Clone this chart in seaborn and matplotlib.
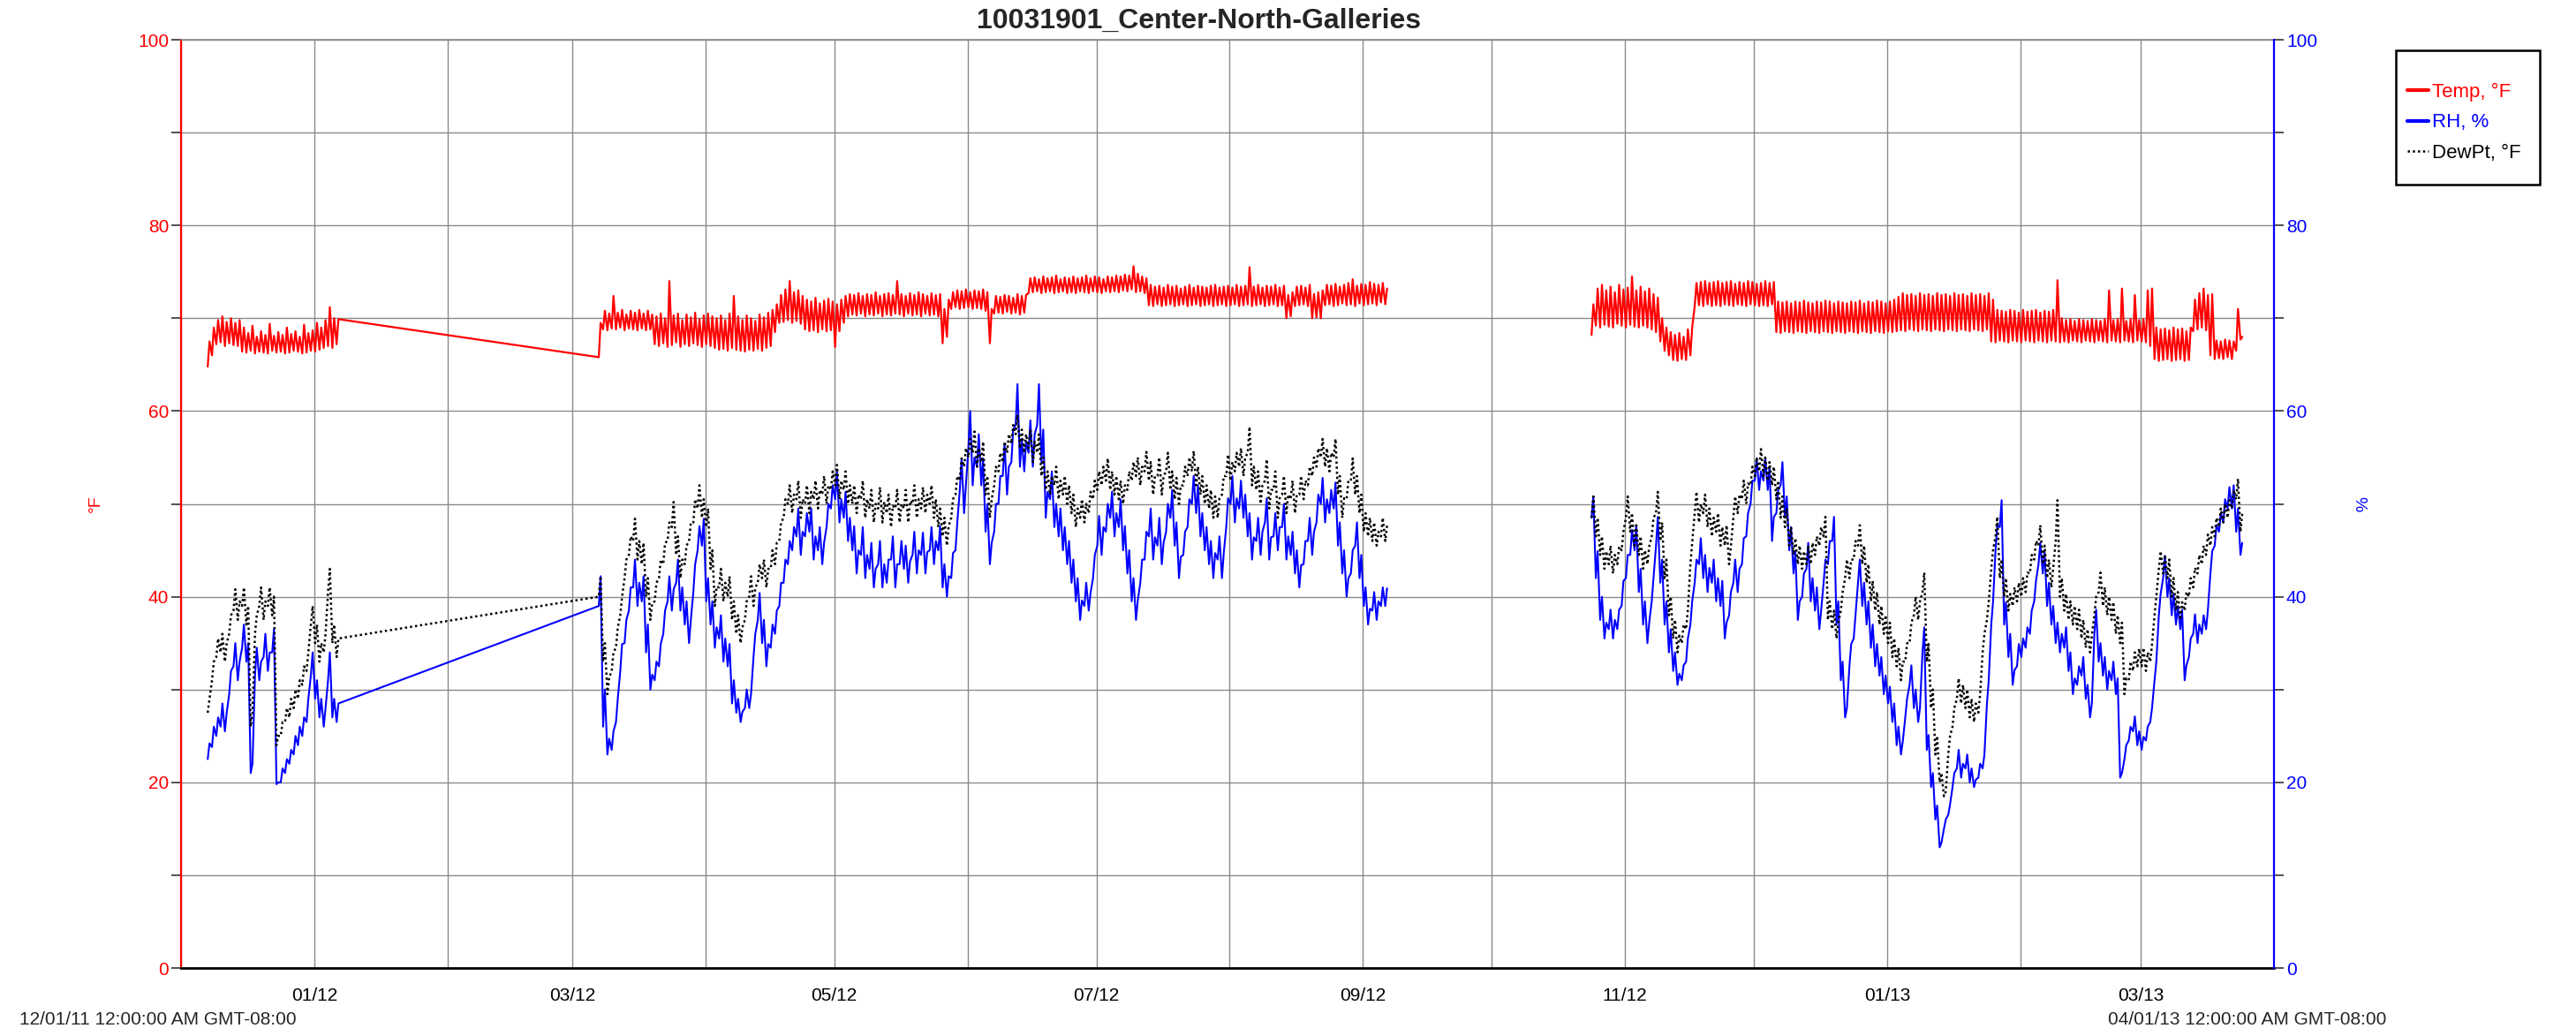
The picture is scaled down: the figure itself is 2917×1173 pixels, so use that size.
import pandas as pd
import matplotlib
matplotlib.use("Agg")
import matplotlib.pyplot as plt
import matplotlib.dates as mdates
from matplotlib.patches import Rectangle
from matplotlib.ticker import MultipleLocator, FuncFormatter
import seaborn as sns

TITLE = "10031901_Center-North-Galleries"
SERIES_NAMES = ["Temp, °F", "RH, %", "DewPt, °F"]
RANGE_START = "2011-12-01"
RANGE_END = "2013-04-01"
START_STAMP = "12/01/11 12:00:00 AM GMT-08:00"
END_STAMP = "04/01/13 12:00:00 AM GMT-08:00"

# First day of each of the three logging periods
SEG1_START = "2011-12-07"
SEG2_START = "2012-03-07"
SEG3_START = "2012-10-24"

# Temperature: daily afternoon high and early-morning low (°F)
temp_seg1_hi = [67.5, 69.0, 69.8, 70.2, 69.6, 70.0, 69.5, 69.8, 69.0, 68.4,
                69.2, 68.0, 68.6, 68.2, 69.4, 68.1, 68.5, 68.2, 69.0, 68.3,
                68.6, 68.0, 69.3, 68.4, 68.7, 69.5, 69.0, 69.8, 71.2, 70.0,
                69.9]
temp_seg1_lo = [64.8, 66.0, 67.2, 67.4, 67.0, 67.3, 67.1, 67.0, 66.4, 66.3,
                66.5, 66.2, 66.4, 66.3, 66.2, 66.5, 66.3, 66.4, 66.2, 66.3,
                66.5, 66.4, 66.2, 66.3, 66.5, 66.4, 66.6, 66.8, 67.0, 66.8,
                67.2]
temp_seg2_hi = [69.5, 70.8, 70.5, 72.4, 70.6, 70.9, 70.4, 70.8, 70.6, 70.9,
                70.5, 70.8, 70.4, 70.2, 70.5, 70.0, 74.0, 70.3, 70.5, 69.8,
                70.4, 70.1, 70.6, 69.9, 70.3, 70.5, 70.2, 70.0, 70.3, 69.8,
                70.5, 72.4, 70.2, 69.8, 70.3, 70.0, 69.7, 70.4, 70.1, 70.6,
                70.9, 71.5, 72.5, 73.1, 74.0, 72.8, 73.0, 72.4, 72.0, 71.8,
                72.2, 71.6, 71.9, 72.1, 71.8, 71.5, 72.0, 72.4, 72.6, 72.5,
                72.7, 72.4, 72.6, 72.5, 72.8, 72.4, 72.6, 72.7, 72.5, 74.0,
                72.6, 72.4, 72.7, 72.5, 72.8, 72.6, 72.4, 72.7, 72.5, 72.6,
                71.0, 72.0, 72.8, 73.0, 72.9, 73.1, 72.8, 73.0, 72.9, 73.1,
                72.8, 71.0, 72.4, 72.3, 72.5, 72.4, 72.2, 72.6, 72.4, 72.5,
                74.3, 74.4, 74.2, 74.5, 74.3, 74.4, 74.6, 74.2, 74.4, 74.3,
                74.5, 74.3, 74.4, 74.6, 74.3, 74.5, 74.4, 74.2, 74.5, 74.4,
                74.6, 74.5, 74.7, 74.6, 75.6, 74.8, 74.5, 74.3, 73.6, 73.4,
                73.5, 73.3, 73.6, 73.4, 73.5, 73.2, 73.4, 73.6, 73.3, 73.5,
                73.4, 73.3, 73.5, 73.6, 73.3, 73.4, 73.5, 73.3, 73.6, 73.4,
                73.5, 75.5, 73.4, 73.6, 73.3, 73.5, 73.4, 73.6, 73.3, 73.5,
                72.5, 72.8, 73.4, 73.5, 73.3, 73.6, 72.6, 72.8, 73.0, 73.6,
                73.5, 73.7, 73.4, 73.6, 73.8, 74.2, 73.5, 73.7, 73.6, 73.9,
                73.7, 73.6, 73.8, 73.2]
temp_seg2_lo = [65.8, 68.8, 68.7, 68.9, 68.8, 69.0, 68.7, 68.9, 68.8, 68.7,
                68.9, 68.7, 68.8, 67.2, 67.0, 67.3, 66.9, 67.1, 67.4, 66.9,
                67.2, 67.0, 67.3, 67.1, 66.9, 67.2, 67.0, 66.8, 66.6, 66.7,
                66.5, 66.8, 66.6, 66.5, 66.4, 66.6, 66.5, 66.7, 66.5, 66.8,
                67.0, 68.5, 69.5, 69.6, 69.8, 69.5, 69.7, 69.4, 68.8, 68.6,
                68.7, 68.5, 68.8, 68.6, 68.7, 66.9, 68.6, 69.5, 70.2, 70.4,
                70.3, 70.5, 70.2, 70.4, 70.3, 70.5, 70.2, 70.4, 70.3, 70.5,
                70.4, 70.2, 70.5, 70.3, 70.4, 70.2, 70.5, 70.3, 70.4, 70.2,
                67.3, 68.0, 71.0, 71.2, 71.0, 71.1, 71.2, 71.0, 71.1, 71.0,
                70.8, 67.3, 70.5, 70.6, 70.5, 70.7, 70.5, 70.6, 70.4, 70.6,
                72.7, 72.8, 72.9, 72.7, 72.8, 72.9, 72.7, 72.8, 72.9, 72.7,
                72.8, 72.7, 72.9, 72.8, 72.7, 72.9, 72.8, 72.7, 72.9, 72.8,
                72.9, 72.8, 73.0, 72.9, 73.1, 72.8, 72.9, 72.7, 71.4, 71.3,
                71.5, 71.3, 71.4, 71.5, 71.3, 71.4, 71.5, 71.3, 71.4, 71.5,
                71.3, 71.4, 71.5, 71.3, 71.4, 71.5, 71.3, 71.4, 71.5, 71.3,
                71.4, 71.5, 71.3, 71.4, 71.5, 71.3, 71.4, 71.5, 71.3, 71.4,
                70.0, 70.2, 71.3, 71.4, 71.5, 71.3, 70.0, 70.1, 70.0, 71.4,
                71.5, 71.3, 71.4, 71.6, 71.4, 71.5, 71.3, 71.6, 71.4, 71.5,
                71.6, 71.4, 71.7, 71.5]
temp_seg3_hi = [71.5, 73.2, 73.6, 73.0, 73.4, 72.8, 73.6, 73.1, 73.3, 74.5,
                73.0, 73.4, 72.9, 73.2, 72.6, 72.2, 70.0, 69.0, 68.5, 68.2,
                68.4, 68.0, 68.8, 69.0, 73.8, 73.9, 74.0, 73.8, 73.9, 74.0,
                73.8, 73.9, 74.0, 73.7, 73.9, 73.8, 74.0, 73.9, 73.7, 73.8,
                74.0, 73.8, 73.9, 71.8, 71.7, 71.8, 71.6, 71.8, 71.7, 71.9,
                71.7, 71.6, 71.8, 71.7, 71.9, 71.8, 71.6, 71.8, 71.7, 71.6,
                71.8, 71.7, 71.9, 71.6, 71.8, 71.7, 71.9, 71.8, 71.6, 71.8,
                72.0, 72.3, 72.7, 72.5, 72.6, 72.4, 72.7, 72.5, 72.6, 72.4,
                72.7, 72.5, 72.6, 72.4, 72.7, 72.5, 72.6, 72.4, 72.7, 72.5,
                72.6, 72.4, 72.7, 72.0, 70.9, 70.8, 70.7, 70.9, 70.8, 70.6,
                70.9, 70.7, 70.8, 70.9, 70.6, 70.8, 70.7, 70.9, 74.1, 70.0,
                69.8, 69.9, 69.7, 69.9, 69.8, 69.7, 69.9, 69.8, 69.7, 69.9,
                73.0, 69.8, 69.9, 73.2, 69.7, 69.9, 72.5, 69.8, 69.9, 73.0,
                73.2, 69.0, 68.8, 68.9, 68.7, 69.0, 68.8, 68.9, 68.6, 69.0,
                72.0, 72.7, 73.2, 72.5, 72.6, 67.6, 67.5, 67.7, 67.6, 67.5,
                71.0, 68.0]
temp_seg3_lo = [68.2, 69.2, 69.0, 69.3, 69.1, 69.0, 69.4, 69.2, 69.0, 69.3,
                69.1, 69.0, 69.2, 69.0, 68.8, 68.5, 67.5, 66.5, 66.0, 65.5,
                65.4, 65.6, 65.5, 66.0, 71.3, 71.4, 71.3, 71.5, 71.3, 71.4,
                71.3, 71.5, 71.4, 71.3, 71.5, 71.4, 71.3, 71.5, 71.4, 71.3,
                71.4, 71.3, 71.5, 68.5, 68.4, 68.6, 68.5, 68.4, 68.6, 68.5,
                68.4, 68.6, 68.5, 68.4, 68.6, 68.5, 68.4, 68.6, 68.5, 68.4,
                68.6, 68.5, 68.4, 68.6, 68.5, 68.4, 68.6, 68.5, 68.4, 68.6,
                68.5, 68.6, 68.7, 68.6, 68.8, 68.7, 68.6, 68.8, 68.7, 68.6,
                68.8, 68.7, 68.6, 68.8, 68.7, 68.6, 68.8, 68.7, 68.6, 68.8,
                68.7, 68.6, 68.8, 67.5, 67.4, 67.6, 67.5, 67.4, 67.6, 67.5,
                67.4, 67.6, 67.5, 67.4, 67.6, 67.5, 67.4, 67.6, 67.5, 67.4,
                67.5, 67.4, 67.6, 67.5, 67.4, 67.6, 67.5, 67.4, 67.6, 67.5,
                67.4, 67.6, 67.5, 67.4, 67.6, 67.5, 67.4, 67.6, 67.5, 67.4,
                67.0, 65.6, 65.4, 65.5, 65.6, 65.4, 65.5, 65.6, 65.4, 65.5,
                68.6, 68.8, 69.0, 68.7, 66.0, 65.6, 65.7, 65.6, 65.8, 65.6,
                66.5, 67.7]

# Relative humidity: afternoon and early-morning readings (%)
rh_seg1_pm = [24.2, 26.0, 27.0, 28.5, 27.5, 32.0, 35.0, 33.0, 37.0, 35.0,
              22.0, 34.5, 33.0, 36.0, 34.0, 36.5, 20.0, 21.5, 22.5, 23.5,
              25.0, 26.0, 27.0, 29.0, 34.0, 31.0, 29.0, 28.0, 34.0, 29.0,
              28.5]
rh_seg1_am = [22.5, 23.8, 25.0, 26.0, 25.5, 29.5, 32.5, 31.0, 34.5, 33.0,
              21.0, 31.5, 31.0, 33.5, 32.0, 34.0, 19.8, 20.0, 21.0, 22.0,
              23.0, 24.0, 25.0, 26.5, 31.5, 29.0, 27.0, 26.0, 31.0, 27.0,
              26.5]
rh_seg2_pm = [42.2, 30.0, 24.7, 25.5, 29.0, 34.9, 37.5, 41.0, 44.0, 41.5,
              42.2, 37.0, 31.6, 33.0, 34.9, 38.5, 42.2, 40.8, 44.0, 41.0,
              39.5, 37.5, 43.5, 47.6, 48.4, 42.0, 39.5, 36.7, 38.0, 35.5,
              34.9, 31.0, 29.0, 27.6, 30.0, 29.5, 36.0, 40.4, 37.5, 34.9,
              37.0, 38.5, 41.5, 44.0, 46.0, 47.5, 49.5, 47.0, 49.0, 49.5,
              46.5, 47.5, 45.8, 50.0, 52.0, 53.5, 50.5, 51.3, 48.5, 47.6,
              45.0, 47.5, 44.5, 45.8, 43.0, 46.0, 43.5, 44.0, 46.5, 43.5,
              46.0, 45.5, 43.8, 47.0, 45.0, 46.9, 44.8, 47.5, 46.0, 47.6,
              43.5, 42.2, 44.7, 48.0, 54.9, 52.0, 60.0, 55.0, 57.5, 54.9,
              50.0, 45.8, 50.0, 53.0, 56.5, 54.0, 58.0, 62.9, 57.0, 56.7,
              59.0, 57.5, 62.9, 58.0, 51.3, 53.5, 50.0, 49.5, 47.5, 46.0,
              44.0, 42.0, 39.6, 41.5, 40.4, 44.5, 48.7, 47.5, 50.0, 51.3,
              49.0, 50.5, 47.6, 45.0, 42.0, 39.6, 44.0, 47.0, 49.5, 46.4,
              48.5, 45.8, 50.0, 51.5, 48.0, 44.3, 47.0, 50.5, 53.0, 52.0,
              49.0, 47.5, 46.0, 44.7, 46.5, 44.7, 50.6, 53.0, 50.6, 52.5,
              51.0, 49.0, 46.4, 48.5, 47.0, 50.6, 46.4, 49.0, 47.5, 50.0,
              46.5, 47.0, 45.0, 43.4, 46.0, 48.5, 47.0, 51.0, 52.8, 50.5,
              51.5, 52.3, 48.0, 45.0, 42.0, 45.0, 48.0, 44.5, 41.0, 38.7,
              40.5, 39.5, 41.0, 40.9]
rh_seg2_am = [39.0, 26.0, 23.0, 23.5, 26.5, 32.0, 35.0, 38.5, 41.0, 39.0,
              39.5, 34.0, 30.0, 31.0, 32.5, 36.0, 39.5, 38.5, 41.5, 38.5,
              37.0, 35.0, 40.5, 45.0, 45.5, 39.5, 37.0, 34.5, 35.5, 33.0,
              32.5, 28.5, 27.5, 26.5, 28.0, 28.0, 33.5, 37.5, 35.0, 32.5,
              34.5, 36.0, 39.0, 41.5, 43.5, 45.0, 46.5, 44.5, 46.5, 47.0,
              44.0, 45.0, 43.5, 47.5, 49.5, 50.5, 48.0, 48.5, 46.0, 45.0,
              42.5, 44.5, 42.0, 43.0, 41.0, 43.5, 41.0, 41.5, 44.0, 41.0,
              43.5, 43.0, 41.5, 44.5, 42.5, 44.5, 42.5, 45.0, 43.5, 45.0,
              41.0, 40.0, 42.0, 45.0, 51.5, 49.0, 56.0, 52.0, 54.0, 52.0,
              47.0, 43.5, 47.0, 50.0, 53.0, 51.0, 54.5, 58.5, 54.0, 53.5,
              55.5, 54.0, 58.5, 54.5, 48.5, 50.5, 47.5, 46.5, 45.0, 43.5,
              41.5, 39.5, 37.5, 39.0, 38.5, 42.0, 45.5, 44.5, 47.0, 48.5,
              46.5, 47.5, 45.0, 42.5, 39.5, 37.5, 41.5, 44.0, 46.5, 44.0,
              45.5, 43.5, 47.0, 48.5, 45.5, 42.0, 44.5, 47.5, 50.0, 49.0,
              46.5, 45.0, 43.5, 42.0, 44.0, 42.0, 47.5, 50.0, 48.0, 49.5,
              48.5, 46.5, 44.0, 46.0, 44.5, 48.0, 44.0, 46.5, 45.0, 47.5,
              44.0, 44.5, 42.5, 41.0, 43.5, 46.0, 44.5, 48.0, 50.0, 48.0,
              49.0, 49.5, 45.5, 42.5, 40.0, 42.5, 45.5, 42.0, 39.0, 37.0,
              38.5, 37.5, 39.0, 39.0]
rh_seg3_pm = [50.8, 44.9, 40.0, 37.2, 38.6, 37.5, 38.6, 41.7, 44.5, 47.2,
              47.7, 43.0, 39.5, 37.2, 42.0, 48.6, 44.0, 39.5, 36.5, 34.0,
              31.7, 32.6, 35.5, 39.5, 44.0, 46.3, 44.5, 43.1, 44.0, 42.0,
              41.7, 37.2, 40.5, 44.0, 43.0, 46.3, 49.0, 52.5, 54.9, 53.5,
              55.0, 54.0, 48.6, 51.5, 54.5, 50.8, 47.5, 44.9, 39.5, 42.5,
              45.8, 42.0, 41.0, 38.5, 44.0, 46.0, 48.6, 39.5, 33.0, 28.0,
              34.9, 38.0, 44.0, 41.5, 39.5, 37.0, 34.9, 33.5, 31.5, 30.3,
              28.5, 26.0, 24.4, 29.0, 32.6, 30.0, 28.0, 36.7, 25.1, 21.0,
              17.5, 13.5, 16.0, 17.6, 21.0, 23.5, 22.0, 23.0, 21.5, 20.3,
              22.0, 23.0, 31.0, 39.4, 47.7, 50.4, 39.4, 36.0, 32.1, 34.9,
              35.5, 36.7, 38.5, 41.7, 45.8, 44.9, 41.5, 39.0, 37.2, 36.0,
              36.7, 34.0, 31.2, 32.5, 33.5, 30.5, 28.5, 38.6, 35.0, 33.5,
              32.0, 33.0, 31.2, 21.0, 24.0, 26.0, 27.1, 25.5, 24.9, 26.0,
              28.0, 33.0, 40.3, 44.4, 42.0, 40.3, 39.0, 38.6, 32.6, 35.5,
              38.1, 37.0, 38.0, 38.6, 44.9, 47.7, 49.0, 50.5, 51.8, 52.0,
              49.5, 45.8]
rh_seg3_am = [48.5, 42.0, 37.5, 35.5, 36.5, 35.5, 36.5, 39.0, 42.0, 44.5,
              45.0, 40.5, 37.0, 35.0, 39.5, 45.5, 41.5, 37.0, 34.0, 32.0,
              30.5, 31.0, 33.0, 37.0, 41.5, 43.5, 42.0, 40.5, 41.5, 39.5,
              39.0, 35.5, 38.0, 41.5, 40.5, 43.5, 46.5, 50.0, 52.5, 51.5,
              52.5, 51.5, 46.0, 49.0, 52.0, 48.5, 45.0, 42.5, 37.5, 40.0,
              43.0, 39.5, 38.5, 36.5, 41.5, 43.5, 46.0, 37.0, 31.0, 27.0,
              32.5, 35.5, 41.5, 39.0, 37.0, 34.5, 32.5, 31.5, 29.5, 28.5,
              26.5, 24.0, 23.0, 27.0, 30.5, 28.0, 26.5, 34.0, 23.5, 19.5,
              16.0, 13.0, 15.0, 16.5, 19.5, 21.5, 20.5, 21.5, 20.0, 19.5,
              20.5, 21.5, 28.5, 37.0, 45.0, 47.5, 37.0, 33.5, 30.5, 32.5,
              33.5, 34.5, 36.0, 39.5, 43.5, 42.5, 39.0, 37.0, 35.0, 34.0,
              34.5, 32.0, 29.5, 30.5, 31.5, 29.0, 27.0, 36.0, 33.0, 31.5,
              30.0, 31.0, 29.5, 20.5, 22.5, 24.5, 25.5, 24.0, 23.5, 24.5,
              26.5, 31.0, 38.0, 42.0, 40.0, 38.0, 37.0, 36.5, 31.0, 33.5,
              36.0, 35.0, 36.0, 36.5, 42.5, 45.5, 47.0, 48.0, 49.5, 49.5,
              47.0, 44.5]

# Dew point: afternoon and early-morning readings (°F)
dew_seg1_pm = [29.0, 33.0, 35.5, 36.0, 35.0, 38.0, 40.8, 39.5, 41.0, 39.0,
               27.5, 38.0, 41.0, 39.5, 41.0, 40.0, 25.0, 26.5, 28.0, 29.0,
               30.0, 31.0, 32.5, 34.0, 39.0, 37.0, 35.0, 36.0, 43.0, 37.0,
               35.5]
dew_seg1_am = [27.5, 31.0, 33.5, 34.0, 33.0, 36.0, 38.5, 37.5, 39.0, 37.0,
               26.0, 36.0, 39.0, 37.5, 39.0, 38.0, 24.0, 25.0, 26.5, 27.0,
               28.0, 29.0, 30.5, 32.0, 37.0, 35.0, 33.0, 34.0, 40.5, 35.0,
               33.5]
dew_seg2_pm = [42.2, 35.0, 31.3, 34.0, 36.7, 40.0, 44.0, 46.5, 48.4, 46.0,
               45.8, 42.0, 39.3, 41.5, 44.0, 45.8, 48.0, 50.2, 46.5, 44.0,
               45.5, 48.0, 50.5, 52.0, 50.5, 49.5, 45.0, 41.1, 43.0, 41.5,
               42.2, 39.5, 38.0, 36.7, 39.5, 42.2, 41.0, 43.5, 44.0, 43.0,
               45.0, 45.8, 48.0, 50.5, 52.0, 51.0, 52.5, 50.5, 52.0, 51.3,
               52.5, 51.5, 53.0, 52.0, 53.5, 54.2, 52.5, 53.5, 52.0, 52.0,
               51.0, 52.5, 50.5, 51.5, 50.0, 51.8, 50.2, 51.0, 49.8, 51.5,
               50.0, 51.5, 50.3, 52.0, 50.5, 51.8, 51.0, 52.0, 50.5, 49.5,
               48.5, 47.6, 50.5, 53.0, 54.9, 56.0, 57.0, 57.8, 56.0, 56.7,
               53.0, 50.5, 54.0, 55.5, 56.7, 57.5, 58.5, 59.6, 58.0, 57.5,
               58.0, 56.7, 57.5, 55.0, 53.5, 53.0, 54.0, 52.5, 53.0, 52.0,
               51.0, 49.5, 50.5, 50.0, 51.3, 52.5, 53.5, 54.0, 54.9, 53.5,
               53.0, 52.5, 52.0, 53.5, 54.5, 55.0, 54.0, 55.6, 54.5, 53.0,
               55.0, 53.0, 55.5, 53.5, 52.8, 52.0, 54.0, 55.0, 55.7, 54.0,
               53.0, 52.0, 51.5, 50.8, 50.6, 53.0, 55.3, 54.5, 55.5, 56.0,
               55.0, 58.3, 54.0, 53.5, 52.0, 54.8, 51.5, 53.5, 50.6, 53.0,
               51.0, 52.5, 51.0, 53.0, 52.5, 54.0, 55.0, 56.0, 57.0, 56.0,
               55.5, 57.0, 53.0, 50.6, 52.5, 54.9, 53.0, 51.0, 49.0, 48.5,
               48.0, 47.0, 48.5, 47.7]
dew_seg2_am = [40.0, 33.0, 29.5, 32.0, 34.5, 38.0, 42.0, 44.5, 46.0, 44.0,
               43.5, 40.0, 37.5, 39.5, 42.0, 43.5, 46.0, 47.5, 44.5, 42.0,
               43.5, 46.0, 48.0, 49.5, 48.5, 47.5, 43.0, 39.0, 41.0, 39.5,
               40.0, 37.5, 36.0, 35.0, 37.5, 40.0, 39.0, 41.5, 42.0, 41.0,
               43.0, 43.5, 46.0, 48.5, 50.0, 49.0, 50.5, 48.5, 50.0, 49.0,
               50.5, 49.5, 51.0, 50.0, 51.5, 52.0, 50.5, 51.5, 50.0, 50.0,
               49.0, 50.5, 48.5, 49.5, 48.0, 49.5, 48.0, 49.0, 47.5, 49.5,
               48.0, 49.5, 48.0, 50.0, 48.5, 49.5, 49.0, 50.0, 48.5, 47.5,
               46.5, 45.5, 48.5, 51.0, 52.5, 54.0, 55.0, 55.5, 54.0, 54.5,
               51.0, 48.5, 52.0, 53.5, 54.5, 55.5, 56.5, 57.5, 56.0, 55.5,
               56.0, 54.5, 55.5, 53.0, 51.5, 51.0, 52.0, 50.5, 51.0, 50.0,
               49.0, 47.5, 48.5, 48.0, 49.0, 50.5, 51.5, 52.0, 52.5, 51.5,
               51.0, 50.5, 50.0, 51.5, 52.5, 53.0, 52.0, 53.5, 52.5, 51.0,
               53.0, 51.0, 53.5, 51.5, 50.5, 50.0, 52.0, 53.0, 53.5, 52.0,
               51.0, 50.0, 49.5, 48.5, 48.5, 51.0, 53.0, 52.5, 53.5, 54.0,
               53.0, 55.5, 52.0, 51.5, 50.0, 52.5, 49.5, 51.5, 48.5, 51.0,
               49.0, 50.5, 49.0, 51.0, 50.5, 52.0, 53.0, 54.0, 55.0, 54.0,
               53.5, 55.0, 51.0, 48.5, 50.5, 52.5, 51.0, 49.0, 47.0, 46.5,
               46.0, 45.5, 46.5, 46.0]
dew_seg3_pm = [50.8, 48.5, 46.5, 44.9, 45.5, 44.5, 45.4, 47.0, 50.8, 49.0,
               47.7, 46.5, 45.0, 45.4, 48.5, 51.3, 48.0, 44.0, 40.0, 37.5,
               35.8, 37.0, 38.6, 45.8, 51.3, 50.0, 51.0, 49.5, 48.5, 49.0,
               47.5, 47.7, 45.4, 50.8, 51.0, 52.5, 52.2, 54.0, 55.0, 55.9,
               55.0, 54.5, 54.0, 52.5, 50.8, 49.5, 47.5, 46.3, 45.5, 44.9,
               45.5, 45.8, 46.5, 47.5, 48.6, 39.5, 38.5, 37.2, 40.5, 44.0,
               44.0, 46.0, 47.7, 45.5, 43.5, 41.7, 40.5, 39.0, 38.0, 37.2,
               35.5, 34.5, 33.0, 35.0, 37.2, 40.0, 39.5, 42.6, 34.9, 30.0,
               25.0, 21.0, 19.0, 25.0, 28.0, 31.2, 30.5, 30.0, 29.0, 28.5,
               29.5, 36.0, 39.4, 45.0, 48.6, 44.0, 42.0, 40.3, 41.0, 41.5,
               42.0, 42.6, 44.5, 46.0, 47.7, 45.5, 44.0, 43.1, 50.4, 42.0,
               40.3, 39.5, 39.0, 38.6, 37.5, 36.5, 35.8, 40.0, 42.6, 41.0,
               40.0, 39.4, 38.0, 37.2, 31.2, 33.0, 34.0, 34.4, 34.5, 34.0,
               34.9, 40.0, 44.9, 44.5, 44.0, 42.0, 40.5, 39.4, 40.5, 42.0,
               43.1, 44.5, 45.5, 46.7, 47.5, 48.5, 49.5, 50.0, 50.4, 51.5,
               52.7, 49.0]
dew_seg3_am = [48.5, 46.5, 44.5, 43.0, 43.5, 42.5, 43.5, 45.0, 48.5, 47.0,
               45.5, 44.5, 43.0, 43.5, 46.5, 49.0, 46.0, 42.0, 38.0, 35.5,
               34.0, 35.0, 36.5, 43.5, 49.0, 48.0, 49.0, 47.5, 46.5, 47.0,
               45.5, 45.5, 43.5, 48.5, 49.0, 50.5, 50.0, 52.0, 53.0, 53.5,
               53.0, 52.5, 52.0, 50.5, 48.5, 47.5, 45.5, 44.5, 43.5, 43.0,
               43.5, 43.5, 44.5, 45.5, 46.5, 37.5, 36.5, 35.5, 38.5, 42.0,
               42.0, 44.0, 45.5, 43.5, 41.5, 39.5, 38.5, 37.0, 36.0, 35.0,
               33.5, 32.5, 31.0, 33.0, 35.0, 38.0, 37.5, 40.5, 33.0, 28.0,
               23.0, 20.0, 18.5, 23.0, 26.0, 29.0, 28.5, 28.0, 27.0, 26.5,
               27.5, 34.0, 37.5, 43.0, 46.5, 42.0, 40.0, 38.5, 39.0, 39.5,
               40.0, 40.5, 42.5, 44.0, 45.5, 43.5, 42.0, 41.0, 46.0, 40.0,
               38.5, 37.5, 37.0, 36.5, 35.5, 34.5, 34.0, 38.0, 40.5, 39.0,
               38.0, 37.5, 36.0, 35.0, 29.5, 31.0, 32.0, 32.5, 32.5, 32.0,
               33.0, 38.0, 43.0, 42.5, 42.0, 40.0, 38.5, 37.5, 38.5, 40.0,
               41.0, 42.5, 43.5, 44.5, 45.5, 46.5, 47.5, 48.0, 48.5, 49.5,
               50.5, 47.0]


def readings(start, early, late):
    """Two readings per day: early morning (05:00) and afternoon (15:00)."""
    days = pd.date_range(start, periods=len(late), freq="D")
    times = (days + pd.Timedelta(hours=5)).append(days + pd.Timedelta(hours=15))
    frame = pd.DataFrame({"time": times, "value": list(early) + list(late)})
    return frame.sort_values("time").reset_index(drop=True)


def period(start, temp_lo, temp_hi, rh_am, rh_pm, dew_am, dew_pm):
    t = readings(start, temp_lo, temp_hi)
    return pd.DataFrame({"time": t["time"], "temp": t["value"],
                         "rh": readings(start, rh_am, rh_pm)["value"],
                         "dew": readings(start, dew_am, dew_pm)["value"]})


seg1 = period(SEG1_START, temp_seg1_lo, temp_seg1_hi,
              rh_seg1_am, rh_seg1_pm, dew_seg1_am, dew_seg1_pm)
seg2 = period(SEG2_START, temp_seg2_lo, temp_seg2_hi,
              rh_seg2_am, rh_seg2_pm, dew_seg2_am, dew_seg2_pm)
seg3 = period(SEG3_START, temp_seg3_lo, temp_seg3_hi,
              rh_seg3_am, rh_seg3_pm, dew_seg3_am, dew_seg3_pm)

# The winter gap between the first two periods is bridged by a straight
# segment; the autumn gap before the third period is left open.
pieces = [pd.concat([seg1, seg2], ignore_index=True), seg3]

sns.set_style("white")
plt.rcParams["font.family"] = ["Liberation Sans", "DejaVu Sans"]

W, H = 2917, 1173
fig = plt.figure(figsize=(W / 100, H / 100), dpi=100)
ax = fig.add_axes([205 / W, 1 - 1096 / H, (2575 - 205) / W, (1096 - 45) / H])
ax2 = ax.twinx()

RED, BLUE = "#ff0000", "#0000ff"
for piece in pieces:
    sns.lineplot(data=piece, x="time", y="temp", ax=ax, color=RED,
                 lw=1.6, estimator=None, sort=False)
for piece in pieces:
    sns.lineplot(data=piece, x="time", y="rh", ax=ax2, color=BLUE,
                 lw=1.5, estimator=None, sort=False)
# dew point shares the 0-100 scale; drawn last so its dots sit on top
for piece in pieces:
    sns.lineplot(data=piece, x="time", y="dew", ax=ax2, color="black",
                 lw=1.8, linestyle=(0, (1, 1.3)), estimator=None, sort=False)

x0, x1 = pd.Timestamp(RANGE_START), pd.Timestamp(RANGE_END)
for a in (ax, ax2):
    a.set_xlim(x0, x1)
    a.set_ylim(0, 100)
    a.yaxis.set_major_locator(MultipleLocator(10))
    a.yaxis.set_major_formatter(
        FuncFormatter(lambda v, p: f"{v:.0f}" if round(v) % 20 == 0 else ""))

ax.xaxis.set_major_locator(mdates.MonthLocator(bymonth=[1, 3, 5, 7, 9, 11]))
ax.xaxis.set_minor_locator(mdates.MonthLocator(bymonth=[2, 4, 6, 8, 10, 12]))
ax.xaxis.set_major_formatter(mdates.DateFormatter("%m/%y"))

GRID = "#8a8a8a"
ax.grid(True, which="both", axis="x", color=GRID, lw=1.0)
ax.grid(True, which="major", axis="y", color=GRID, lw=1.0)
ax2.grid(False)
ax.set_axisbelow(True)

ax.tick_params(axis="x", which="major", length=10, width=1.5, color="black",
               labelsize=15, pad=6, labelcolor="black", direction="out")
ax.tick_params(axis="x", which="minor", length=7, width=1.5, color="black",
               direction="out")
ax.tick_params(axis="y", length=8, width=1.2, color="#333333", labelsize=15,
               labelcolor=RED, pad=2, direction="out", left=True)
ax2.tick_params(axis="y", length=8, width=1.2, color="#333333", labelsize=15,
                labelcolor=BLUE, pad=2, direction="out", right=True)

for name, sp in ax.spines.items():
    sp.set_visible(True)
ax.spines["left"].set_color(RED)
ax.spines["left"].set_linewidth(1.6)
ax.spines["bottom"].set_color("black")
ax.spines["bottom"].set_linewidth(2.0)
ax.spines["top"].set_color(GRID)
ax.spines["top"].set_linewidth(1.2)
ax.spines["right"].set_visible(False)
for name in ("left", "top", "bottom"):
    ax2.spines[name].set_visible(False)
ax2.spines["right"].set_visible(True)
ax2.spines["right"].set_color(BLUE)
ax2.spines["right"].set_linewidth(1.6)

ax.set_xlabel("")
ax.set_ylabel("°F", color=RED, fontsize=14)
ax2.set_ylabel("%", color=BLUE, fontsize=14, rotation=270)
ax.yaxis.set_label_coords(-0.037, 0.5)
ax2.yaxis.set_label_coords(1.044, 0.5)

fig.text(1358 / W, 1 - 24 / H, TITLE, ha="center", va="center",
         fontsize=23, fontweight="bold",
         family=["Liberation Sans Narrow", "Liberation Sans", "DejaVu Sans"])

fig.text(22 / W, 1 - 1155 / H, START_STAMP, ha="left", va="center",
         fontsize=15)
fig.text(2387 / W, 1 - 1155 / H, END_STAMP, ha="left", va="center",
         fontsize=15)

# Legend in its own framed box to the right of the plot
handles = [ax.lines[0], ax2.lines[0], ax2.lines[2]]
leg = fig.legend(handles, SERIES_NAMES, loc="upper left",
                 bbox_to_anchor=(2726 / W, 1 - 94 / H), frameon=False,
                 fontsize=16, handlelength=1.1, handletextpad=0.15,
                 labelspacing=0.6, borderpad=0, borderaxespad=0)
for txt, col in zip(leg.get_texts(), [RED, BLUE, "black"]):
    txt.set_color(col)
for h in leg.legend_handles[:2]:
    h.set_linewidth(3.0)
fig.patches.append(Rectangle((2713 / W, 1 - 209 / H), 163 / W, 152 / H,
                             transform=fig.transFigure, fill=False,
                             edgecolor="black", lw=1.8))

fig.savefig("out.png", dpi=100)
